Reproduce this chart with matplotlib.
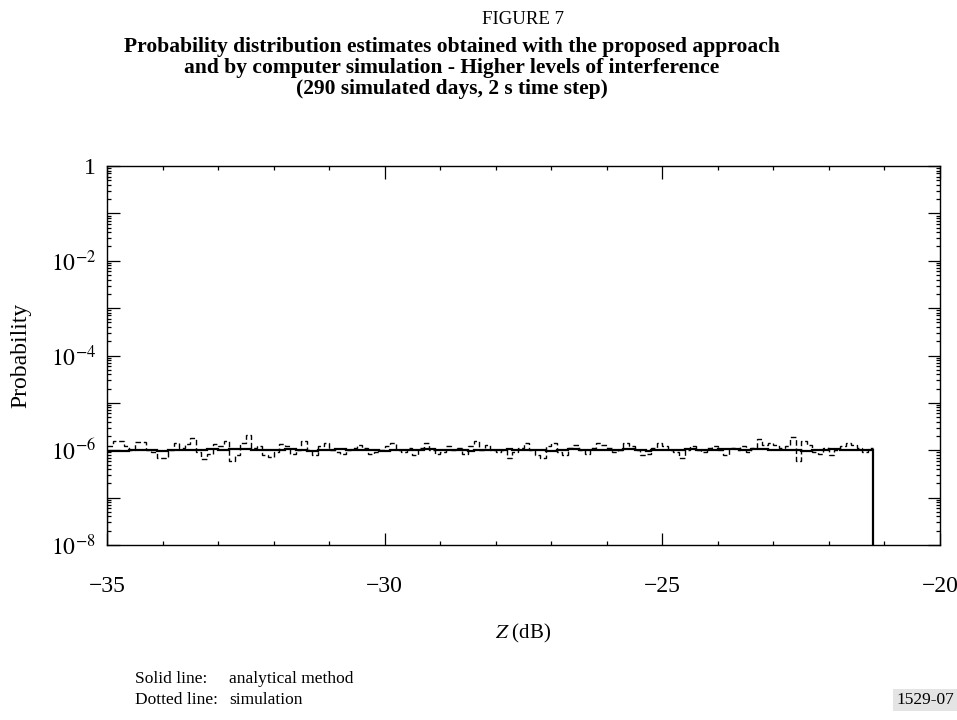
import numpy as np
import matplotlib
matplotlib.use("Agg")
import matplotlib.pyplot as plt
from matplotlib.ticker import FixedLocator, FuncFormatter, NullFormatter

plt.rcParams['font.family'] = ['Liberation Serif', 'DejaVu Serif']
plt.rcParams['mathtext.fontset'] = 'stix'

# ---- data (probability per 0.1 dB bin, units of 1e-6) ----
z_start = -35.0
z_step = 0.1
analytical = [
    0.98, 0.98, 0.98, 0.98, 1.00, 1.00, 1.00, 1.00, 1.00, 0.98,
    0.98, 1.00, 1.00, 1.02, 1.02, 1.00, 1.00, 1.02, 1.05, 1.05,
    1.02, 1.02, 1.05, 1.08, 1.08, 1.05, 1.02, 1.02, 1.00, 1.00,
    1.02, 1.02, 1.05, 1.05, 1.02, 1.00, 0.98, 0.98, 1.00, 1.02,
    1.02, 1.05, 1.05, 1.02, 1.00, 1.00, 1.02, 1.02, 1.00, 0.98,
    0.98, 1.00, 1.02, 1.02, 1.00, 1.00, 1.02, 1.05, 1.05, 1.02,
    1.00, 1.00, 1.02, 1.02, 1.00, 0.98, 1.00, 1.02, 1.02, 1.00,
    1.00, 1.02, 1.05, 1.02, 1.00, 1.00, 1.02, 1.02, 1.00, 0.98,
    0.98, 1.00, 1.02, 1.05, 1.05, 1.02, 1.00, 1.00, 1.02, 1.02,
    1.00, 1.00, 1.02, 1.05, 1.05, 1.02, 1.00, 0.98, 1.00, 1.02,
    1.02, 1.00, 1.00, 1.02, 1.05, 1.05, 1.02, 1.00, 1.00, 1.02,
    1.05, 1.08, 1.08, 1.05, 1.02, 1.02, 1.05, 1.08, 1.05, 1.02,
    1.00, 1.00, 1.02, 1.02, 1.00, 0.98, 0.98, 1.00, 1.02, 1.02,
    1.05, 1.05, 1.02, 1.00, 1.00, 1.02, 1.02, 1.00,
]
simulation = [
    1.20, 1.60, 1.60, 1.20, 1.00, 1.50, 1.50, 1.00, 0.90, 0.70,
    0.70, 1.00, 1.40, 1.10, 1.35, 1.80, 0.90, 0.65, 0.85, 1.35,
    1.25, 1.55, 0.60, 0.80, 1.40, 2.10, 1.10, 1.20, 0.80, 0.72,
    0.92, 1.35, 1.20, 0.85, 1.00, 1.55, 1.00, 0.78, 1.20, 1.45,
    1.00, 0.92, 0.85, 1.00, 1.10, 1.30, 1.10, 0.85, 0.92, 1.00,
    1.20, 1.45, 1.00, 0.90, 1.10, 0.78, 1.10, 1.40, 1.00, 0.85,
    0.92, 1.20, 1.00, 1.10, 0.85, 1.20, 1.55, 1.00, 1.30, 1.00,
    0.90, 1.00, 0.70, 0.92, 1.10, 1.45, 1.00, 0.78, 0.70, 1.20,
    1.40, 0.90, 0.78, 1.10, 1.30, 1.00, 0.85, 1.10, 1.40, 1.30,
    1.10, 0.90, 1.00, 1.45, 1.20, 1.00, 0.78, 0.85, 1.10, 1.40,
    1.20, 1.00, 0.90, 0.70, 1.00, 1.20, 1.00, 0.90, 1.10, 1.20,
    1.00, 0.78, 1.10, 1.00, 1.20, 0.90, 1.10, 1.75, 1.30, 1.40,
    1.30, 1.10, 1.20, 1.90, 0.60, 1.55, 1.30, 0.90, 0.85, 1.10,
    0.78, 1.00, 1.20, 1.40, 1.30, 1.10, 0.90, 1.10,
]
y_ticks_major = [1e-8, 1e-6, 1e-4, 1e-2, 1]
y_tick_labels = ['$10^{-8}$', '$10^{-6}$', '$10^{-4}$', '$10^{-2}$', '1']
x_ticks_major = [-35, -30, -25, -20]

n = len(analytical)
edges = z_start + z_step * np.arange(n + 1)
edges_sim = z_start + z_step * np.arange(len(simulation) + 1)

fig = plt.figure(figsize=(9.57, 7.2), dpi=100)
ax = fig.add_axes([107/957, 1 - 545/720, 833/957, 379/720])

ax.stairs(np.array(analytical) * 1e-6, edges, baseline=1e-10,
          color='black', linewidth=1.6)
ax.stairs(np.array(simulation) * 1e-6, edges_sim, baseline=None,
          color='black', linewidth=1.0, linestyle=(0, (4, 2)))

ax.set_yscale('log')
ax.set_ylim(1e-8, 1)
ax.set_xlim(-35, -20)

ax.yaxis.set_major_locator(FixedLocator([10.0**k for k in range(-8, 1)]))
lab = dict(zip(y_ticks_major, y_tick_labels))
def yfmt(v, pos):
    for k, s in lab.items():
        if abs(np.log10(v) - np.log10(k)) < 1e-6:
            return s
    return ''
ax.yaxis.set_major_formatter(FuncFormatter(yfmt))
ax.yaxis.set_minor_locator(FixedLocator([m * 10.0**k for k in range(-8, 0) for m in range(2, 10)]))
ax.yaxis.set_minor_formatter(NullFormatter())

ax.xaxis.set_major_locator(FixedLocator(x_ticks_major))
ax.xaxis.set_major_formatter(FuncFormatter(lambda v, p: f"{int(v)}".replace('-', '\u2212')))
ax.xaxis.set_minor_locator(FixedLocator(list(range(-35, -19))))

ax.tick_params(which='both', direction='in', top=True, right=True, labelsize=17, width=0.9)
ax.tick_params(which='major', length=9)
ax.tick_params(axis='x', which='major', pad=22)
ax.tick_params(axis='y', which='major', pad=8)
ax.tick_params(which='minor', length=3)
for s in ax.spines.values():
    s.set_linewidth(1.0)

ax.set_ylabel('Probability', fontsize=17, labelpad=14)
ax.set_xlabel('$Z$ (dB)', fontsize=15, labelpad=18)

fig.text(523/957, 1 - 20/720, 'FIGURE 7', ha='center', va='center', fontsize=13.6)
fig.text(452/957, 1 - 68/720,
         'Probability distribution estimates obtained with the proposed approach\n'
         'and by computer simulation - Higher levels of interference\n'
         '(290 simulated days, 2 s time step)',
         ha='center', va='center', fontsize=15.5, fontweight='bold', linespacing=1.05)

fig.text(135/957, 1 - 679/720, 'Solid line:', ha='left', va='center', fontsize=12.5)
fig.text(229/957, 1 - 679/720, 'analytical method', ha='left', va='center', fontsize=12.5)
fig.text(135/957, 1 - 700/720, 'Dotted line:', ha='left', va='center', fontsize=12.5)
fig.text(229/957, 1 - 700/720, 'simulation', ha='left', va='center', fontsize=12.5)
fig.text(954/957, 1 - 700/720, '1529-07', ha='right', va='center', fontsize=12.5,
         bbox=dict(facecolor='#e4e4e4', edgecolor='none', pad=2))

fig.savefig('out.png', dpi=100)
